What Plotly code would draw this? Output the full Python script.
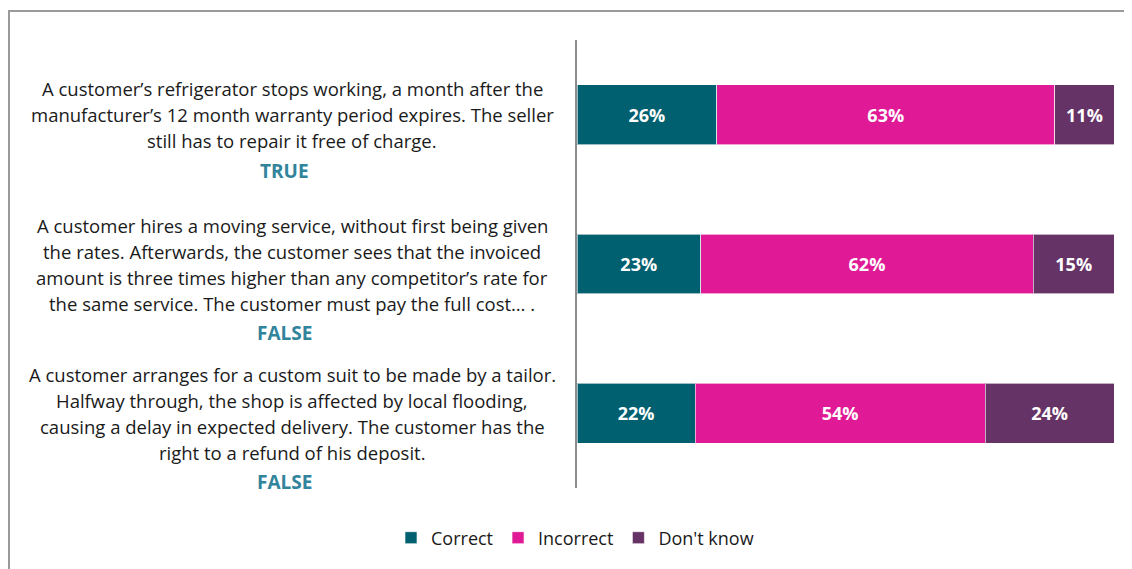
import plotly.graph_objects as go

questions = ["Q1", "Q2", "Q3"]
question_lines = [
    ["A customer\u2019s refrigerator stops working, a month after the",
     "manufacturer\u2019s 12 month warranty period expires. The seller",
     "still has to repair it free of charge."],
    ["A customer hires a moving service, without first being given",
     "the rates. Afterwards, the customer sees that the invoiced",
     "amount is three times higher than any competitor\u2019s rate for",
     "the same service. The customer must pay the full cost\u2026 ."],
    ["A customer arranges for a custom suit to be made by a tailor.",
     "Halfway through, the shop is affected by local flooding,",
     "causing a delay in expected delivery. The customer has the",
     "right to a refund of his deposit."],
]
answers = ["TRUE", "FALSE", "FALSE"]
correct = [26, 23, 22]
incorrect = [63, 62, 54]
dont_know = [11, 15, 24]

series = [("Correct", correct, "#00606F"),
          ("Incorrect", incorrect, "#E01A96"),
          ("Don't know", dont_know, "#663366")]

FONT = "Open Sans"
OFF = 8  # page body margin
W, H = 1132 - OFF, 569 - OFF
L, R_EDGE, T, B_EDGE = 577 - OFF, 1114 - OFF, 40 - OFF, 488 - OFF
PW, PH = R_EDGE - L, B_EDGE - T


def px_x(px):
    return (px - OFF - L) / PW


def px_y(py):
    return (B_EDGE - (py - OFF)) / PH


fig = go.Figure()
for name, vals, col in series:
    fig.add_trace(go.Bar(
        y=questions, x=vals, name=name, orientation="h",
        marker=dict(color=col, line=dict(color="rgba(255,255,255,0.6)", width=1)),
        text=[f"{v}%" for v in vals], textposition="inside",
        insidetextanchor="middle",
        textfont=dict(color="white", size=18, family=FONT, weight="bold"),
        hoverinfo="skip",
    ))

annotations = []
for q, lines, ans in zip(questions, question_lines, answers):
    n = len(lines)
    start = -(n - 1) * 13
    for i, ln in enumerate(lines):
        annotations.append(dict(
            xref="paper", yref="y", x=px_x(292), y=q, text=ln, showarrow=False,
            xanchor="center", yanchor="middle", yshift=-(start + 26 * i),
            font=dict(family=FONT, size=18.5, color="#1a1a1a")))
    annotations.append(dict(
        xref="paper", yref="y", x=px_x(284), y=q, text=f"<b>{ans}</b>", showarrow=False,
        xanchor="center", yanchor="middle", yshift=-(start + 26 * (n - 1) + 30),
        font=dict(family=FONT, size=19, color="#31849B")))

fig.update_layout(
    width=W, height=H,
    margin=dict(l=L, r=W - R_EDGE, t=T, b=H - B_EDGE),
    paper_bgcolor="white", plot_bgcolor="white",
    barmode="stack", bargap=0.6,
    showlegend=True,
    legend=dict(orientation="h", x=px_x(575), xanchor="center", y=px_y(538), yanchor="middle",
                font=dict(family=FONT, size=18, color="#1a1a1a"),
                traceorder="normal", itemwidth=30),
    xaxis=dict(range=[0, 100], visible=False, fixedrange=True),
    yaxis=dict(autorange="reversed", showticklabels=False, showgrid=False,
               showline=True, linecolor="#8c8c8c", linewidth=2, ticks="",
               zeroline=False, fixedrange=True),
    annotations=annotations,
    shapes=[dict(type="rect", xref="paper", yref="paper",
                 x0=px_x(9), x1=px_x(1160),
                 y0=px_y(600), y1=px_y(11),
                 line=dict(color="#9a9a9a", width=2), fillcolor="rgba(0,0,0,0)",
                 layer="below")],
)

fig.write_html("out.html")
